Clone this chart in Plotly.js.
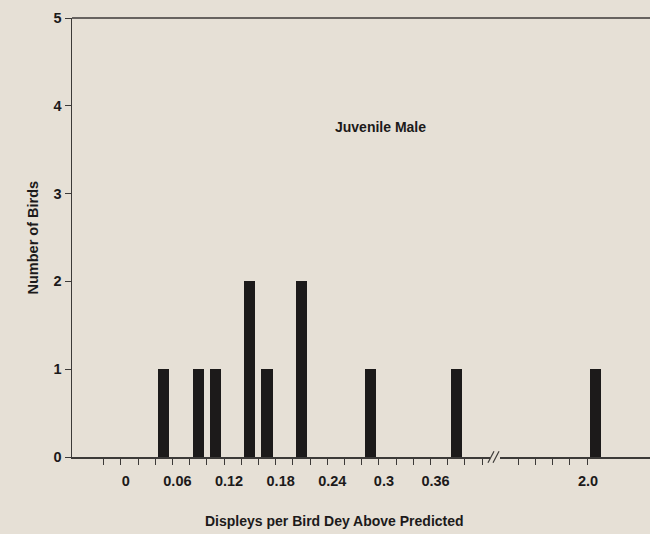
<!DOCTYPE html>
<html>
<head>
<meta charset="utf-8">
<script src="https://cdn.plot.ly/plotly-3.0.1.min.js"></script>
<style>html,body{margin:0;padding:0;background:#e6e0d6;}</style>
</head>
<body>
<div id="chart" style="width:650px;height:534px;"></div>
<script>
// Bin centres (displays per bird day above predicted) and number of birds
var binCenters = [0.05, 0.09, 0.11, 0.15, 0.17, 0.21, 0.29, 0.39];
var birdCounts = [1, 1, 1, 2, 1, 2, 1, 1];
// Values beyond the axis break
var farBinCenters = [2.01];
var farBirdCounts = [1];
// Tick labels
var tickValues = [0, 0.06, 0.12, 0.18, 0.24, 0.3, 0.36];
var tickLabels = ['0', '0.06', '0.12', '0.18', '0.24', '0.3', '0.36'];
var farTickValues = [2.0];
var farTickLabels = ['2.0'];
var minorTicks = [-0.02, 0, 0.02, 0.04, 0.06, 0.08, 0.10, 0.12, 0.14, 0.16, 0.18, 0.20, 0.22, 0.24, 0.26, 0.28, 0.30, 0.32, 0.34, 0.36, 0.38, 0.40, 0.42];
var farMinorTicks = [1.92, 1.94, 1.96, 1.98];
var yTicks = [0, 1, 2, 3, 4, 5];

var bg = '#e6e0d6';
var ink = '#1c1a1a';
var lineCol = '#3c3a38';
var fontFam = '"Liberation Sans", Arial, Helvetica, sans-serif';
var barW = 0.013;

var traces = [
  {type: 'bar', x: binCenters, y: birdCounts, width: barW,
   marker: {color: ink, line: {width: 0}}, xaxis: 'x', yaxis: 'y', hoverinfo: 'x+y'},
  {type: 'bar', x: farBinCenters, y: farBirdCounts, width: barW,
   marker: {color: ink, line: {width: 0}}, xaxis: 'x2', yaxis: 'y', hoverinfo: 'x+y'}
];

var tickFont = {family: fontFam, size: 14.5, color: ink, weight: 'bold'};

var layout = {
  width: 650, height: 534,
  margin: {l: 72, r: 0, t: 18, b: 77},
  paper_bgcolor: bg, plot_bgcolor: bg,
  showlegend: false,
  bargap: 0,
  font: {family: fontFam, color: ink},
  xaxis: {
    domain: [0, 0.7232], range: [-0.0567, 0.4291],
    tickmode: 'array', tickvals: tickValues, ticktext: tickLabels,
    ticks: 'outside', ticklen: 6, tickwidth: 1, tickcolor: lineCol,
    ticklabelshift: 5, ticklabelstandoff: 4,
    minor: {tickmode: 'array', tickvals: minorTicks, ticks: 'outside', ticklen: 6, tickwidth: 1, tickcolor: lineCol, showgrid: false},
    showline: true, linecolor: lineCol, linewidth: 1.5,
    showgrid: false, zeroline: false, tickfont: tickFont, fixedrange: true
  },
  xaxis2: {
    domain: [0.7405, 1], range: [1.8989, 2.0732], anchor: 'y',
    tickmode: 'array', tickvals: farTickValues, ticktext: farTickLabels,
    ticks: 'outside', ticklen: 6, tickwidth: 1, tickcolor: lineCol,
    ticklabelshift: 1, ticklabelstandoff: 4,
    minor: {tickmode: 'array', tickvals: farMinorTicks, ticks: 'outside', ticklen: 6, tickwidth: 1, tickcolor: lineCol, showgrid: false},
    showline: true, linecolor: lineCol, linewidth: 1.5,
    showgrid: false, zeroline: false, tickfont: tickFont, fixedrange: true
  },
  yaxis: {
    range: [0, 5], tickmode: 'array', tickvals: yTicks,
    ticks: 'outside', ticklen: 6, tickwidth: 1, tickcolor: lineCol,
    showline: true, linecolor: lineCol, linewidth: 1.5,
    showgrid: false, zeroline: false, tickfont: tickFont, fixedrange: true
  },
  shapes: [
    {type: 'line', xref: 'paper', yref: 'paper', x0: 0, x1: 1, y0: 1, y1: 1,
     line: {color: lineCol, width: 1.5}},
    {type: 'line', xref: 'paper', yref: 'paper', x0: 0.7197, x1: 0.7301, y0: -0.013, y1: 0.013,
     line: {color: lineCol, width: 1.2}},
    {type: 'line', xref: 'paper', yref: 'paper', x0: 0.7284, x1: 0.7388, y0: -0.013, y1: 0.013,
     line: {color: lineCol, width: 1.2}}
  ],
  annotations: [
    {text: 'Juvenile Male', xref: 'paper', yref: 'paper', x: 0.5346, y: 0.7517,
     xanchor: 'center', yanchor: 'middle', showarrow: false,
     font: {family: fontFam, size: 14, color: ink, weight: 'bold'}},
    {text: 'Displeys per Bird Dey Above Predicted', xref: 'paper', yref: 'paper', x: 0.4533, y: -0.1458,
     xanchor: 'center', yanchor: 'middle', showarrow: false,
     font: {family: fontFam, size: 14, color: ink, weight: 'bold'}},
    {text: 'Number of Birds', xref: 'paper', yref: 'paper', x: -0.0692, y: 0.5,
     xanchor: 'center', yanchor: 'middle', textangle: -90, showarrow: false,
     font: {family: fontFam, size: 14.5, color: ink, weight: 'bold'}}
  ]
};

Plotly.newPlot('chart', traces, layout, {displayModeBar: false, staticPlot: true});
</script>
</body>
</html>
